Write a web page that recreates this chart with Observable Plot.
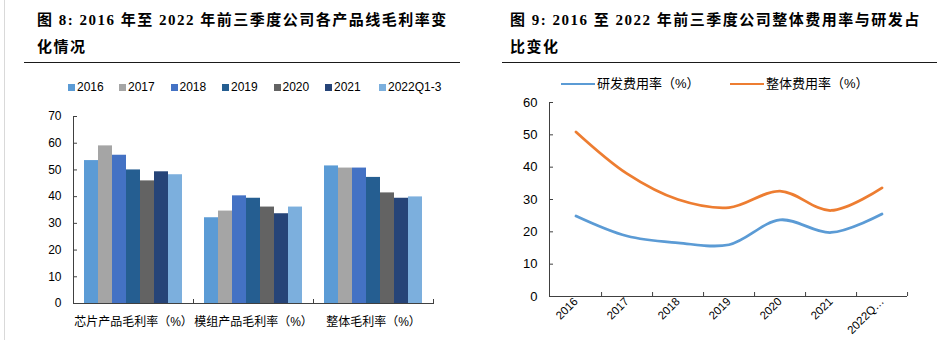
<!DOCTYPE html>
<html><head><meta charset="utf-8">
<script src="https://cdn.jsdelivr.net/npm/d3@7"></script>
<script src="https://cdn.jsdelivr.net/npm/@observablehq/plot@0.6"></script>
<style>
html,body{margin:0;padding:0;background:#fff;}
body{width:940px;height:340px;overflow:hidden;position:relative;font-family:"Liberation Sans","Noto Sans CJK SC",sans-serif;color:#000;}
.border{position:absolute;left:4px;top:0;width:1px;height:340px;background:#d9d9d9;}
.title{position:absolute;top:7px;font-family:"Liberation Serif","Noto Sans CJK SC",serif;font-weight:bold;font-size:15px;letter-spacing:1.5px;line-height:27px;white-space:nowrap;}
.rule{position:absolute;top:62px;height:1px;background:#1a1a1a;}
.item{position:absolute;display:flex;align-items:center;white-space:nowrap;line-height:14px;}
.sw{display:inline-block;width:7px;height:7px;margin-right:2px;}
.ln{display:inline-block;width:34px;height:2.5px;margin-right:2px;}
.chart{position:absolute;}
</style></head>
<body>
<div class="border"></div>
<div class="title" style="left:37px">图 8: 2016 年至 2022 年前三季度公司各产品线毛利率变<br>化情况</div>
<div class="rule" style="left:24px;width:436px"></div>
<div class="title" style="left:510px">图 9: 2016 至 2022 年前三季度公司整体费用率与研发占<br>比变化</div>
<div class="rule" style="left:502px;width:435px"></div>
<div id="legends"></div>
<div id="barChart" class="chart" style="left:0;top:104px"></div>
<div id="lineChart" class="chart" style="left:470px;top:96px"></div>
<script>
// ---- data: bar chart ----
const groups = ["芯片产品毛利率（%）", "模组产品毛利率（%）", "整体毛利率（%）"];
const years = ["2016", "2017", "2018", "2019", "2020", "2021", "2022Q1-3"];
const chipMargin = [53.5, 59.0, 55.5, 50.0, 45.9, 49.3, 48.2];
const moduleMargin = [32.1, 34.6, 40.3, 39.4, 36.1, 33.6, 36.1];
const overallMargin = [51.5, 50.7, 50.7, 47.2, 41.4, 39.4, 39.9];
const barColors = ["#5b9bd5", "#a5a5a5", "#4472c4", "#255e91", "#636363", "#264478", "#7cafdd"];
const barTicks = [0, 10, 20, 30, 40, 50, 60, 70];

// ---- data: line chart ----
const lineCats = ["2016", "2017", "2018", "2019", "2020", "2021", "2022Q1-3"];
const rdRate = [24.9, 18.7, 16.6, 16.0, 23.7, 19.8, 25.5];
const totalRate = [50.9, 38.0, 30.0, 27.5, 32.6, 26.6, 33.6];
const seriesNames = ["研发费用率（%）", "整体费用率（%）"];
const lineColors = ["#5b9bd5", "#ed7d31"];
const lineTicks = [0, 10, 20, 30, 40, 50, 60];

const font = '"Liberation Sans","Noto Sans CJK SC",sans-serif';
const axisColor = "#404040";

// legends (HTML, above the plots)
const legends = document.getElementById("legends");
const legLX = [68, 119, 170.5, 222, 273.5, 325, 379];
years.forEach((y, i) => {
  const s = document.createElement("div");
  s.className = "item";
  s.style.left = legLX[i] + "px"; s.style.top = "80px"; s.style.fontSize = "12px";
  s.innerHTML = `<span class="sw" style="background:${barColors[i]}"></span>${y}`;
  legends.appendChild(s);
});
const legRX = [561, 730];
seriesNames.forEach((n, i) => {
  const s = document.createElement("div");
  s.className = "item";
  s.style.left = legRX[i] + "px"; s.style.top = "77px"; s.style.fontSize = "13px";
  s.innerHTML = `<span class="ln" style="background:${lineColors[i]}"></span>${n}`;
  legends.appendChild(s);
});

// bar chart
const barData = [];
const groupVals = [chipMargin, moduleMargin, overallMargin];
groups.forEach((g, gi) => years.forEach((y, yi) => barData.push({group: g, year: y, value: groupVals[gi][yi]})));

const bW = 470, bH = 235, bMT = 12, bMB = 36;
const bInner = bH - bMT - bMB;
const bar = Plot.plot({
  width: bW, height: bH,
  marginLeft: 72, marginRight: 37, marginTop: bMT, marginBottom: bMB,
  style: {fontFamily: font, fontSize: "12px", color: "#000", background: "transparent"},
  fx: {domain: groups, padding: 0, label: null},
  x: {domain: years, paddingInner: 0, paddingOuter: 0.71, axis: null},
  y: {domain: [0, 70], label: null},
  color: {domain: years, range: barColors},
  marks: [
    Plot.barY(barData, {fx: "group", x: "year", y: "value", fill: "year"}),
    Plot.ruleY([0], {stroke: axisColor}),
    Plot.frame({anchor: "left", facetAnchor: "left", stroke: axisColor}),
    Plot.frame({anchor: "right", insetTop: bInner - 4, stroke: axisColor}),
    Plot.axisY({ticks: barTicks, tickSize: -4, tickPadding: 16, stroke: axisColor, label: null}),
    Plot.axisFx({anchor: "bottom", tickSize: 0, tickPadding: 14, label: null})
  ]
});
document.getElementById("barChart").appendChild(bar);

// line chart
const lineData = lineCats.map((c, i) => ({cat: c, rd: rdRate[i], total: totalRate[i]}));
const lW = 470, lH = 243, lML = 79, lMR = 33, lMT = 6, lMB = 43;
const lInner = lH - lMT - lMB;
const bw = (lW - lML - lMR) / lineCats.length;
const line = Plot.plot({
  width: lW, height: lH,
  marginLeft: lML, marginRight: lMR, marginTop: lMT, marginBottom: lMB,
  style: {fontFamily: font, fontSize: "13px", color: "#000", background: "transparent"},
  x: {type: "band", domain: lineCats, padding: 0, label: null},
  y: {domain: [0, 60], label: null},
  marks: [
    Plot.line(lineData, {x: "cat", y: "rd", stroke: lineColors[0], strokeWidth: 2.75, curve: "catmull-rom"}),
    Plot.line(lineData, {x: "cat", y: "total", stroke: lineColors[1], strokeWidth: 2.75, curve: "catmull-rom"}),
    Plot.ruleY([0], {stroke: axisColor}),
    Plot.frame({anchor: "left", stroke: axisColor}),
    Plot.ruleX(lineCats, {x: d => d, dx: bw / 2, insetTop: lInner - 4, stroke: axisColor}),
    Plot.axisY({ticks: lineTicks, tickSize: -4, tickPadding: 16, stroke: axisColor, label: null}),
    Plot.axisX({tickSize: 0, tickRotate: -45, tickPadding: 3, fontSize: 11.5, label: null,
      tickFormat: d => d.length > 6 ? d.slice(0, 5) + "…" : d})
  ]
});
document.getElementById("lineChart").appendChild(line);
</script>
</body></html>
